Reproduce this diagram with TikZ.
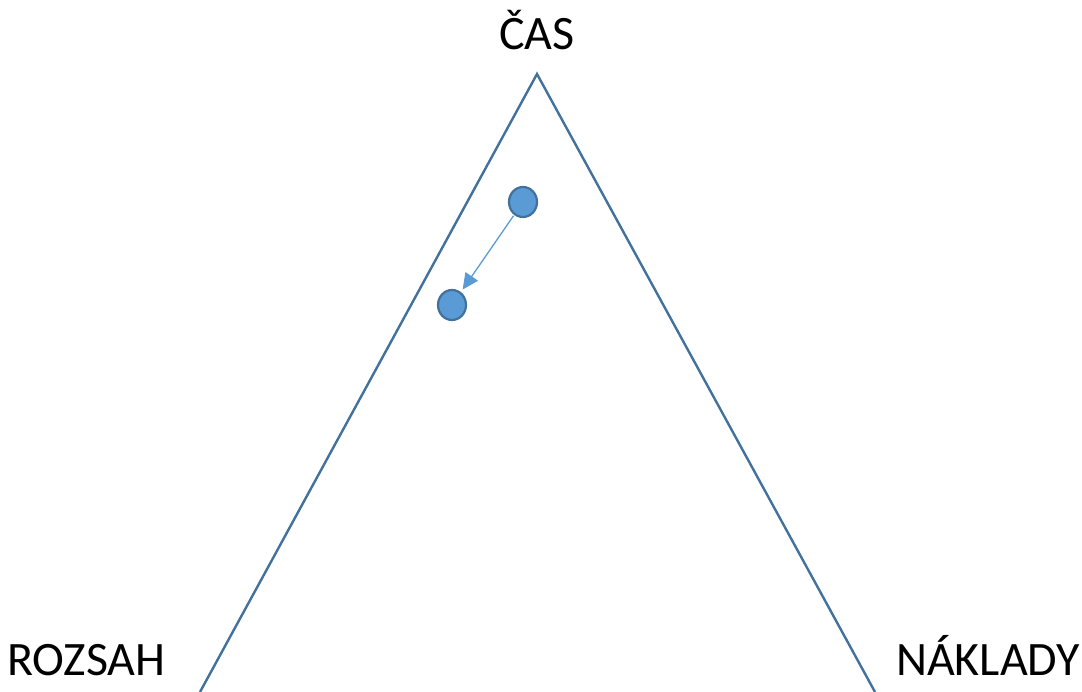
\documentclass[tikz,border=0pt]{standalone}
\usepackage{fontspec}
\setmainfont{Carlito}
\usetikzlibrary{arrows.meta,shapes.geometric}
\definecolor{edge}{HTML}{41719C}
\definecolor{fillb}{HTML}{5B9BD5}
\begin{document}
\begin{tikzpicture}[x=1pt,y=-1pt,
  lbl/.style={inner sep=0pt,font=\fontsize{48}{56}\selectfont,text=black},
  dot/.style={ellipse,draw=edge,fill=fillb,line width=2.2pt,minimum width=28pt,minimum height=30pt,inner sep=0pt},
  move/.style={draw=fillb,line width=1.3pt,shorten <=1pt,shorten >=3pt,-{Triangle[length=16pt,width=15pt]}}]
\useasboundingbox (0,0) rectangle (1082,692);
\coordinate (top) at (537,74);
\coordinate (bl) at (200,692);
\coordinate (br) at (875,692);
\draw[edge,line width=2.4pt,line join=miter] (bl) -- (top) -- (br);
\node[dot] (p1) at (523,202) {};
\node[dot] (p2) at (452,305) {};
\draw[move] (p1) -- (p2);
\node[lbl,anchor=base] (cas) at (537,50) {ČAS};
\node[lbl,anchor=base west] (rozsah) at (7,675) {ROZSAH};
\node[lbl,anchor=base east] (naklady) at (1080,675) {NÁKLADY};
\end{tikzpicture}
\end{document}
